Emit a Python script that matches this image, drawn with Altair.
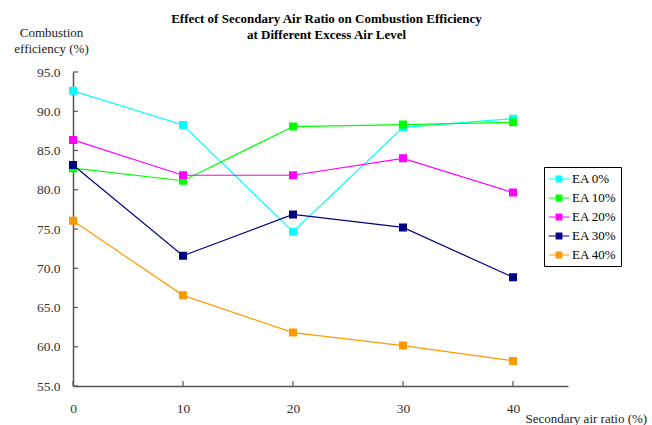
import altair as alt
import pandas as pd

# ---- data ----
secondary_air = [0, 10, 20, 30, 40]
series_names = ["EA 0%", "EA 10%", "EA 20%", "EA 30%", "EA 40%"]
ea0 = [92.6, 88.25, 74.65, 87.95, 89.05]
ea10 = [82.75, 81.15, 88.05, 88.3, 88.6]
ea20 = [86.35, 81.85, 81.85, 84.0, 79.65]
ea30 = [83.15, 71.6, 76.85, 75.2, 68.85]
ea40 = [76.05, 66.55, 61.8, 60.15, 58.2]
series_colors = ["#00FFFF", "#00FF00", "#FF00FF", "#000080", "#FF9900"]
y_ticks = [55, 60, 65, 70, 75, 80, 85, 90, 95]
x_ticks = [0, 10, 20, 30, 40]

rows = []
for name, vals in zip(series_names, [ea0, ea10, ea20, ea30, ea40]):
    for x, v in zip(secondary_air, vals):
        rows.append({"ratio": x, "eff": v, "series": name})
df = pd.DataFrame(rows)

W, H = 495, 314
FONT = "Liberation Serif"

xscale = alt.Scale(domain=[0, 45], nice=False, zero=False)
yscale = alt.Scale(domain=[55, 95], nice=False, zero=False)
cscale = alt.Scale(domain=series_names, range=series_colors)

legend = alt.Legend(
    title=None,
    orient="none",
    legendX=471,
    legendY=95,
    symbolType="M-1.04,0H1.9M0.03,-0.4H0.83V0.4H0.03Z",
    symbolSize=196,
    symbolStrokeWidth=1.2,
    labelFont=FONT,
    labelFontSize=13,
    labelColor="#000000",
    labelOffset=8,
    rowPadding=4,
    padding=4,
    strokeColor="#000000",
    fillColor="#FFFFFF",
)

common_axis = dict(
    ticks=False,
    grid=False,
    labelOverlap=False,
    labelFlush=False,
    labelFont=FONT,
    labelFontSize=13.5,
    labelFontWeight="normal",
    labelColor="#333333",
    titleFont=FONT,
    titleFontSize=13,
    titleFontWeight="normal",
    titleColor="#222222",
    domainColor="#555555",
    domainWidth=1.5,
)

x_axis = alt.Axis(
    values=x_ticks,
    labelPadding=15,
    format="d",
    title="Secondary air ratio (%)",
    titleX=452,
    titleY=36,
    titleAlign="left",
    titleBaseline="alphabetic",
    **common_axis,
)
y_axis = alt.Axis(
    values=y_ticks,
    labelPadding=13,
    format=".1f",
    title=["Combustion", "efficiency (%)"],
    titleAngle=0,
    titleX=-22,
    titleY=-35.5,
    titleAlign="center",
    titleBaseline="alphabetic",
    titleLineHeight=16,
    **common_axis,
)

base = alt.Chart(df)

lines = base.mark_line(strokeWidth=1.2).encode(
    x=alt.X("ratio:Q", scale=xscale, axis=x_axis),
    y=alt.Y("eff:Q", scale=yscale, axis=y_axis),
    stroke=alt.Stroke("series:N", scale=cscale, legend=legend, sort=series_names),
)
points = base.mark_point(shape="square", filled=True, size=36, opacity=1).encode(
    x=alt.X("ratio:Q", scale=xscale, axis=x_axis),
    y=alt.Y("eff:Q", scale=yscale, axis=y_axis),
    fill=alt.Fill("series:N", scale=cscale, legend=legend, sort=series_names),
    stroke=alt.Stroke("series:N", scale=cscale, legend=legend, sort=series_names),
)

ytick_df = pd.DataFrame({"v": y_ticks})
xtick_df = pd.DataFrame({"v": x_ticks})
yticks = alt.Chart(ytick_df).mark_rule(color="#555555", strokeWidth=1.2).encode(
    y=alt.Y("v:Q", scale=yscale, axis=y_axis), x=alt.value(0), x2=alt.value(5)
)
xticks = alt.Chart(xtick_df).mark_rule(color="#555555", strokeWidth=1.2).encode(
    x=alt.X("v:Q", scale=xscale, axis=x_axis), y=alt.value(H), y2=alt.value(H - 5)
)

chart = (
    alt.layer(lines, points, yticks, xticks)
    .properties(
        width=W,
        height=H,
        autosize=alt.AutoSizeParams(type="none"),
        padding={"left": 73, "top": 72, "right": 84, "bottom": 39},
        title=alt.Title(
            text=["Effect of Secondary Air Ratio on Combustion Efficiency",
                  "at Different Excess Air Level"],
            font=FONT,
            fontSize=13,
            fontWeight="bold",
            color="#000000",
            lineHeight=16,
            anchor="middle",
            dx=6,
            dy=19,
        ),
    )
    .configure(background="#FFFFFF")
    .configure_view(stroke=None)
)

chart.save("out.html", embed_options={"renderer": "svg", "actions": False})
